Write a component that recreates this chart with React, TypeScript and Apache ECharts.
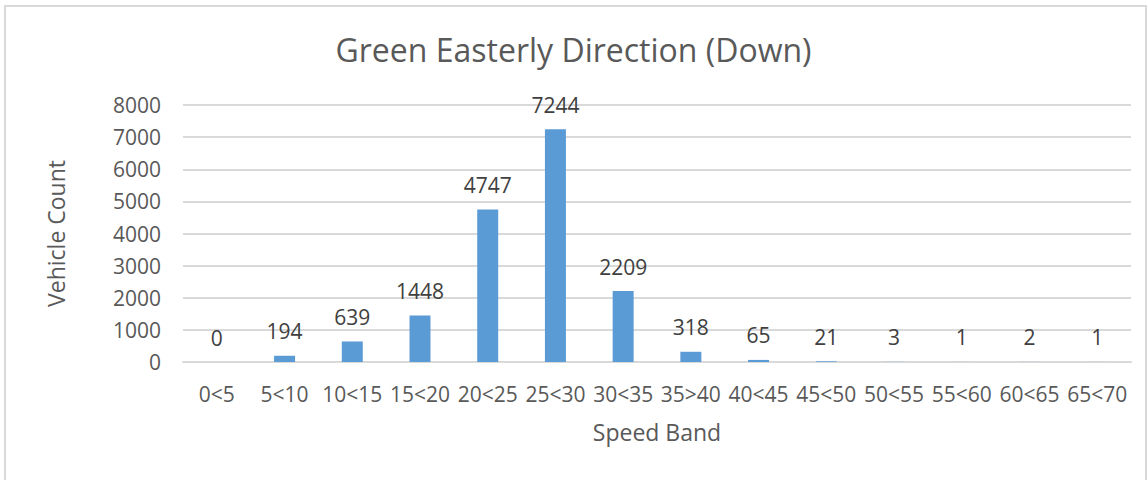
import React, { useEffect, useRef } from "react";
import * as echarts from "echarts";

const categories = ["0<5", "5<10", "10<15", "15<20", "20<25", "25<30", "30<35", "35>40", "40<45", "45<50", "50<55", "55<60", "60<65", "65<70"];
const counts = [0, 194, 639, 1448, 4747, 7244, 2209, 318, 65, 21, 3, 1, 2, 1];
const titleText = "Green Easterly Direction (Down)";
const yAxisName = "Vehicle Count";
const xAxisName = "Speed Band";

const FONT = "'Open Sans', 'Liberation Sans', sans-serif";

export default function App() {
  const ref = useRef<HTMLDivElement>(null);
  useEffect(() => {
    if (!ref.current) return;
    const chart = echarts.init(ref.current, undefined, { renderer: "svg" });
    chart.setOption({
      animation: false,
      backgroundColor: "#ffffff",
      textStyle: { fontFamily: FONT },
      title: {
        text: titleText,
        left: "center",
        top: 28,
        textStyle: { fontFamily: FONT, fontSize: 32, fontWeight: "normal", color: "#595959" },
      },
      graphic: [
        {
          type: "rect",
          shape: { x: 5, y: 6, width: 1141, height: 490 },
          style: { fill: "none", stroke: "#d9d9d9", lineWidth: 2 },
          silent: true,
        },
      ],
      grid: { left: 183, right: 16, top: 105, bottom: 118, containLabel: false },
      xAxis: {
        type: "category",
        data: categories,
        name: xAxisName,
        nameLocation: "middle",
        nameGap: 58,
        nameTextStyle: { fontFamily: FONT, fontSize: 23, color: "#595959" },
        axisLine: { show: true, lineStyle: { color: "#d9d9d9", width: 2 } },
        axisTick: { show: false },
        axisLabel: { fontFamily: FONT, fontSize: 21, color: "#595959", margin: 21, interval: 0 },
      },
      yAxis: {
        type: "value",
        min: 0,
        max: 8000,
        interval: 1000,
        name: yAxisName,
        nameLocation: "middle",
        nameGap: 116,
        nameTextStyle: { fontFamily: FONT, fontSize: 23, color: "#595959" },
        axisLine: { show: false },
        axisTick: { show: false },
        axisLabel: {
          fontFamily: FONT,
          fontSize: 21,
          color: "#595959",
          margin: 22,
          formatter: (v: number) => String(v),
        },
        splitLine: { lineStyle: { color: "#d9d9d9", width: 2 } },
      },
      series: [
        {
          type: "bar",
          data: counts,
          barWidth: "31%",
          itemStyle: { color: "#5b9bd5" },
          label: {
            show: true,
            position: "top",
            distance: 14,
            fontFamily: FONT,
            fontSize: 21,
            color: "#404040",
          },
        },
      ],
    });
    return () => chart.dispose();
  }, []);
  return <div ref={ref} style={{ position: "absolute", left: 0, top: 0, width: 1147, height: 480 }} />;
}
